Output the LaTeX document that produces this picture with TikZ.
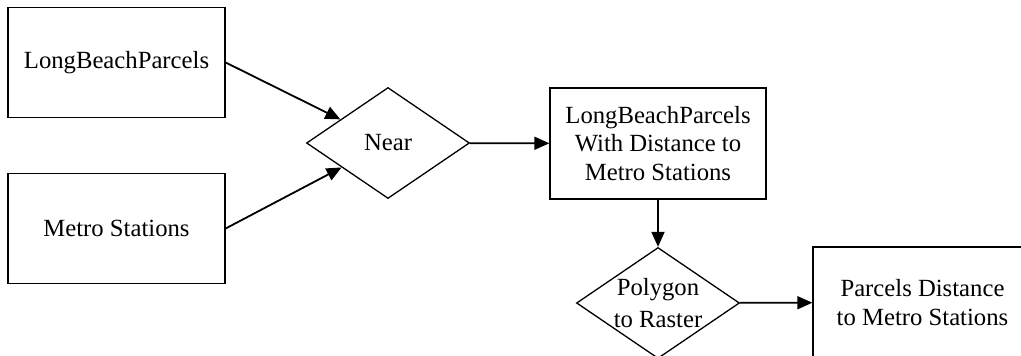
\documentclass[tikz,border=0pt]{standalone}
\usepackage{fontspec}
\setmainfont{Liberation Serif}
\usetikzlibrary{shapes.geometric,arrows.meta}
\begin{document}
\begin{tikzpicture}[x=1pt,y=-1pt,
  every node/.style={font=\fontsize{24.7}{28.3}\selectfont},
  box/.style={draw, line width=1.3pt, minimum width=217pt, minimum height=110pt,
              inner sep=0pt, align=center},
  dia/.style={draw, diamond, line width=1.3pt, minimum width=163pt,
              minimum height=111pt, inner sep=0pt},
  txt/.style={align=center, inner sep=0pt},
  flow/.style={line width=1.8pt, -{Triangle[length=15pt,width=13pt]}}]
\useasboundingbox (0,0) rectangle (1021,356);
\clip (0,0) rectangle (1021,356);

% inputs
\node[box] (parcels)  at (116.5,62.5)  {LongBeachParcels};
\node[box] (stations) at (116.5,228.5) {Metro Stations};

% first operation and its output
\node[dia] (near) at (388,143) {Near};
\node[box, minimum width=216pt, minimum height=111pt] (joined) at (658,143.5)
  {LongBeachParcels\\With Distance to\\Metro Stations};

% second operation and final output
\node[dia] (poly) at (658,303) {};
\node[txt] (polytext) at (poly) {Polygon\\[3pt]to Raster};
\node[box, minimum width=219pt, minimum height=111pt] (raster) at (922.5,302.5)
  {Parcels Distance\\to Metro Stations};

% connectors
\draw[flow] (parcels.east)  -- (near);
\draw[flow] (stations.east) -- (near);
\draw[flow] (near) -- (joined);
\draw[flow] (joined) -- (poly);
\draw[flow] (poly) -- (raster);
\end{tikzpicture}
\end{document}
